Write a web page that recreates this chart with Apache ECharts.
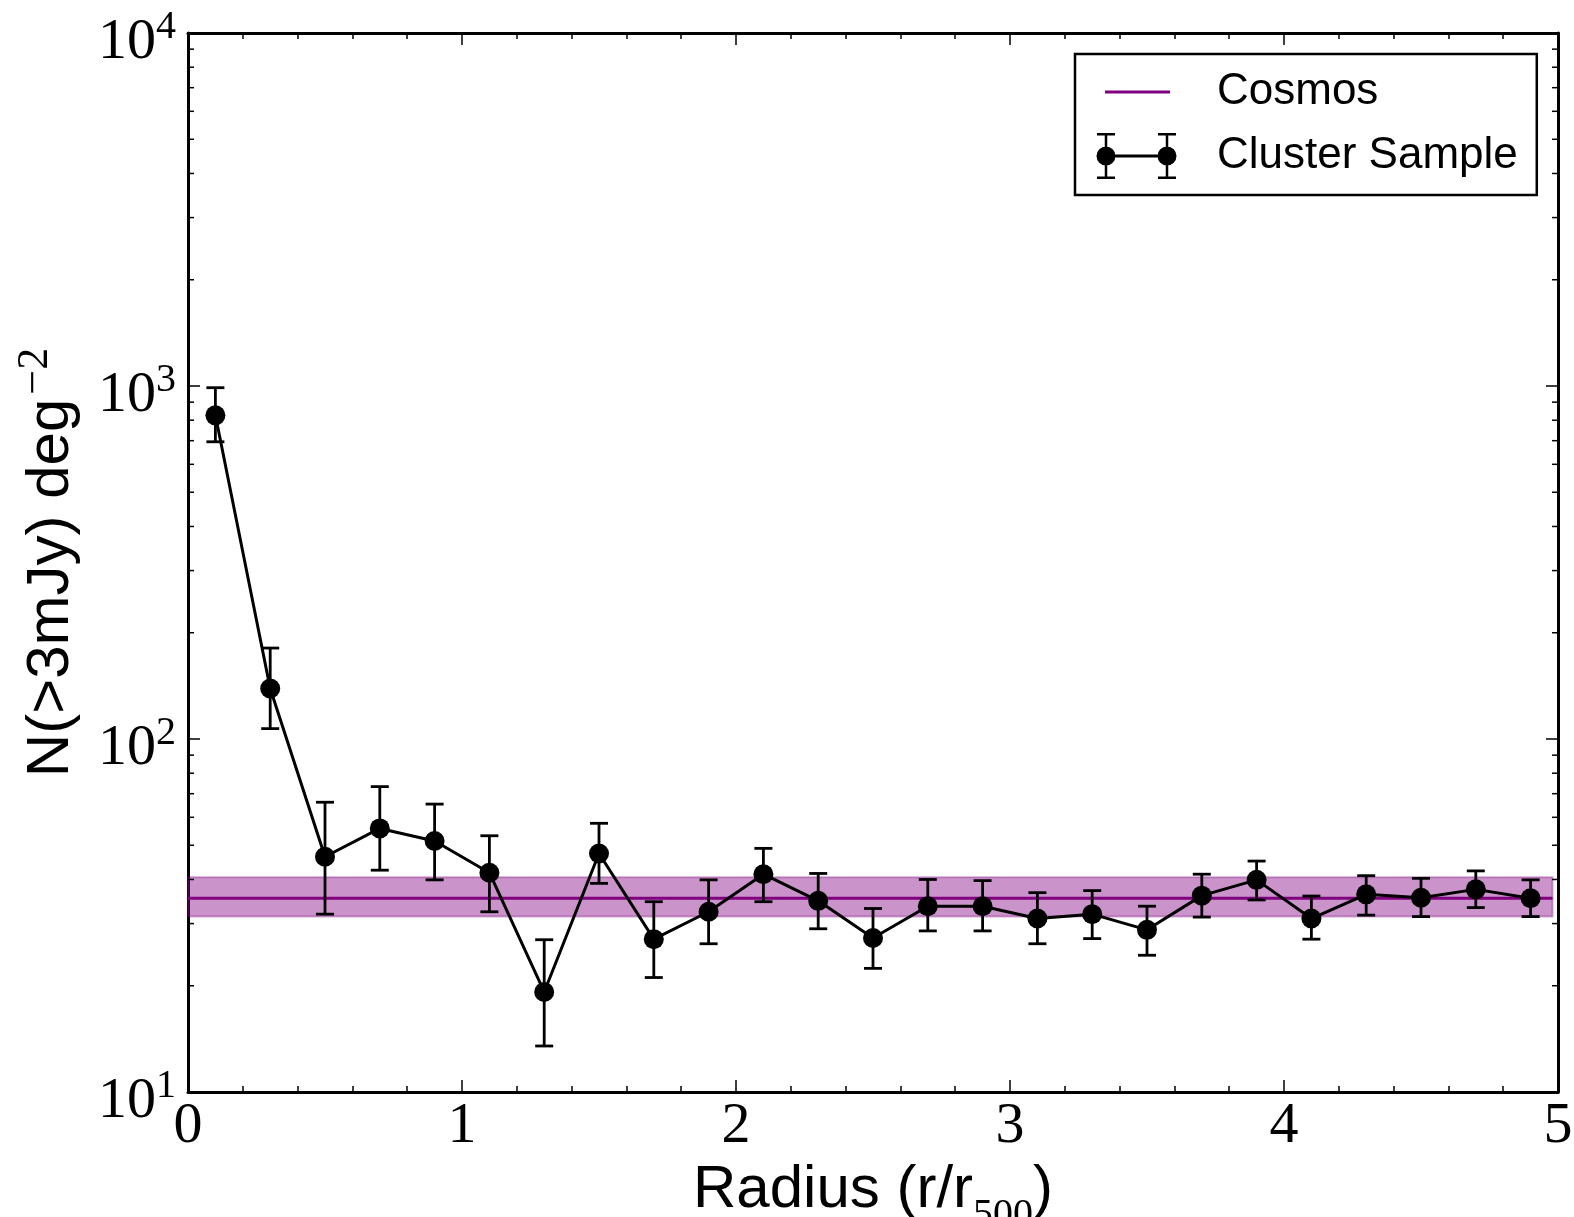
<!DOCTYPE html>
<html><head><meta charset="utf-8">
<script src="https://cdn.jsdelivr.net/npm/echarts@6/dist/echarts.min.js"></script>
<style>html,body{margin:0;padding:0;background:#fff}#c{width:1574px;height:1217px}</style>
</head><body><div id="c"></div>
<script>
// ---- data ----
const radius = [0.1,0.3,0.5,0.7,0.9,1.1,1.3,1.5,1.7,1.9,2.1,2.3,2.5,2.7,2.9,3.1,3.3,3.5,3.7,3.9,4.1,4.3,4.5,4.7,4.9];
const counts = [826,139,46.4,55.8,51.4,41.8,19.2,47.4,27.1,32.4,41.4,34.8,27.3,33.6,33.6,31.0,31.9,28.8,36.0,39.9,31.0,36.3,35.5,37.5,35.4];
const errHigh = [989,181,66.2,73.3,65.4,53.2,27.0,57.7,34.6,39.9,49.0,41.6,33.1,40.0,39.7,36.7,37.2,33.6,41.4,45.1,35.9,41.0,40.3,42.3,39.9];
const errLow = [695,107,31.9,42.5,39.9,32.4,13.5,39.0,21.1,26.3,34.6,29.0,22.4,28.6,28.6,26.3,27.2,24.4,31.3,35.0,27.1,31.7,31.4,33.3,31.4];
const cosmosX = [0, 4.98];
const cosmosLevel = 35.4;
const cosmosLow = 31.4;
const cosmosHigh = 40.6;
const xRange = [0, 5];
const yRange = [10, 10000];
const yMinorTicks = [20,30,40,50,60,70,80,90,200,300,400,500,600,700,800,900,2000,3000,4000,5000,6000,7000,8000,9000];

// ---- chart ----
const chart = echarts.init(document.getElementById('c'), null, {renderer: 'canvas'});
const black = '#000';
const purple = '#800080';
const axisLine = {show: true, onZero: false, lineStyle: {color: black, width: 3}};

const iconCluster = 'path://' +
  'M0.5 23 A9.5 9.5 0 0 1 19.5 23 A9.5 9.5 0 0 1 0.5 23 Z ' +
  'M61.5 23 A9.5 9.5 0 0 1 80.5 23 A9.5 9.5 0 0 1 61.5 23 Z ' +
  'M8.75 0 L11.25 0 L11.25 46 L8.75 46 Z ' +
  'M69.75 0 L72.25 0 L72.25 46 L69.75 46 Z ' +
  'M1 0 L19 0 L19 2.5 L1 2.5 Z M1 43.5 L19 43.5 L19 46 L1 46 Z ' +
  'M62 0 L80 0 L80 2.5 L62 2.5 Z M62 43.5 L80 43.5 L80 46 L62 46 Z ' +
  'M10 21.5 L71 21.5 L71 24.5 L10 24.5 Z ' +
  'M0 0 L0 0 M81 46 L81 46';
const iconCosmos = 'path://M9 21.5 L74 21.5 L74 24.5 L9 24.5 Z M0 0 L0 0 M81 46 L81 46';

function yLabel(v) {
  const e = Math.round(Math.log10(v));
  return '{b|10}{s|' + e + '}';
}

const option = {
  animation: false,
  backgroundColor: '#fff',
  grid: {left: 188, right: 16, top: 33, bottom: 125, containLabel: false, outerBoundsMode: 'none'},
  legend: {
    left: 1075, top: 54, orient: 'vertical', align: 'left',
    backgroundColor: '#fff', borderColor: black, borderWidth: 2.5, borderRadius: 0,
    padding: [15, 19, 16, 21],
    itemWidth: 81, itemHeight: 46, itemGap: 18,
    symbolKeepAspect: true,
    textStyle: {fontFamily: 'Liberation Sans', fontSize: 44, color: black, lineHeight: 46, padding: [0, 0, 0, 35]},
    data: [
      {name: 'Cosmos', icon: iconCosmos, itemStyle: {color: purple, borderWidth: 0, borderColor: 'transparent'}},
      {name: 'Cluster Sample', icon: iconCluster, itemStyle: {color: black, borderWidth: 0, borderColor: 'transparent'}}
    ]
  },
  xAxis: [{
    type: 'value', min: xRange[0], max: xRange[1], interval: 1, position: 'bottom',
    axisLine: axisLine,
    axisTick: {show: true, inside: true, length: 12, lineStyle: {color: black, width: 1.5}},
    minorTick: {show: true, splitNumber: 5, length: 6, lineStyle: {color: black, width: 1.5}},
    splitLine: {show: false},
    axisLabel: {margin: 6, fontFamily: 'Liberation Serif', fontSize: 58, color: black},
    name: '{a|Radius (r/r}{s|500}{a|)}',
    nameLocation: 'middle', nameGap: 51,
    nameTextStyle: {rich: {
      a: {fontFamily: 'Liberation Sans', fontSize: 60, lineHeight: 60, color: black, verticalAlign: 'top'},
      s: {fontFamily: 'Liberation Serif', fontSize: 40, lineHeight: 40, color: black, verticalAlign: 'top', padding: [35, 0, 0, 0]}
    }}
  }, {
    type: 'value', min: xRange[0], max: xRange[1], interval: 1, position: 'top',
    axisLine: axisLine,
    axisTick: {show: true, inside: true, length: 12, lineStyle: {color: black, width: 1.5}},
    minorTick: {show: true, splitNumber: 5, length: 6, lineStyle: {color: black, width: 1.5}},
    splitLine: {show: false}, axisLabel: {show: false}
  }],
  yAxis: [{
    type: 'log', logBase: 10, min: yRange[0], max: yRange[1], position: 'left',
    axisLine: axisLine,
    axisTick: {show: true, inside: true, length: 12, lineStyle: {color: black, width: 1.5}},
    splitLine: {show: false},
    axisLabel: {
      margin: 12, formatter: yLabel,
      rich: {
        b: {fontFamily: 'Liberation Serif', fontSize: 58, lineHeight: 78, color: black, verticalAlign: 'bottom'},
        s: {fontFamily: 'Liberation Serif', fontSize: 40, lineHeight: 40, color: black, verticalAlign: 'top', padding: [13, 0, 0, 0]}
      }
    },
    name: '{t|N(>3mJy) deg}{s|−2}',
    nameLocation: 'middle', nameRotate: 90, nameGap: 107,
    nameTextStyle: {rich: {
      t: {fontFamily: 'Liberation Sans', fontSize: 60, lineHeight: 76, color: black, verticalAlign: 'bottom'},
      s: {fontFamily: 'Liberation Serif', fontSize: 44, lineHeight: 44, color: black, verticalAlign: 'top', padding: [8, 0, 0, 4]}
    }}
  }, {
    type: 'log', logBase: 10, min: yRange[0], max: yRange[1], position: 'right',
    axisLine: axisLine,
    axisTick: {show: true, inside: true, length: 12, lineStyle: {color: black, width: 1.5}},
    splitLine: {show: false}, axisLabel: {show: false}
  }],
  series: [
    {
      name: 'Cosmos', type: 'line', xAxisIndex: 0, yAxisIndex: 0,
      data: cosmosX.map(x => [x, cosmosLevel]),
      showSymbol: false, symbol: 'none',
      lineStyle: {color: purple, width: 3}, itemStyle: {color: purple},
      z: 3,
      markArea: {
        silent: true,
        itemStyle: {color: 'rgba(128,0,128,0.42)', borderColor: 'rgba(128,0,128,0.35)', borderWidth: 2},
        data: [[{xAxis: cosmosX[0], yAxis: cosmosLow}, {xAxis: cosmosX[1], yAxis: cosmosHigh}]]
      }
    },
    {
      name: 'minor ticks', type: 'custom', xAxisIndex: 0, yAxisIndex: 0,
      data: yMinorTicks.map(v => [xRange[0], v]),
      encode: {x: 0, y: 1}, clip: false, silent: true, z: 10,
      renderItem: function (params, api) {
        const v = api.value(1);
        const l = api.coord([xRange[0], v]);
        const r = api.coord([xRange[1], v]);
        const st = {stroke: black, lineWidth: 1.5};
        return {type: 'group', children: [
          {type: 'line', shape: {x1: l[0], y1: l[1], x2: l[0] + 6, y2: l[1]}, style: st},
          {type: 'line', shape: {x1: r[0], y1: r[1], x2: r[0] - 6, y2: r[1]}, style: st}
        ]};
      }
    },
    {
      name: 'errors', type: 'custom', xAxisIndex: 0, yAxisIndex: 0,
      data: radius.map((x, i) => [x, errLow[i], errHigh[i]]),
      encode: {x: 0, y: [1, 2]}, z: 5, silent: true,
      renderItem: function (params, api) {
        const x = api.value(0);
        const lo = api.coord([x, api.value(1)]);
        const hi = api.coord([x, api.value(2)]);
        const hw = 9;
        const st = {stroke: black, lineWidth: 2.8};
        return {type: 'group', children: [
          {type: 'line', shape: {x1: lo[0], y1: lo[1], x2: hi[0], y2: hi[1]}, style: st},
          {type: 'line', shape: {x1: lo[0] - hw, y1: lo[1], x2: lo[0] + hw, y2: lo[1]}, style: st},
          {type: 'line', shape: {x1: hi[0] - hw, y1: hi[1], x2: hi[0] + hw, y2: hi[1]}, style: st}
        ]};
      }
    },
    {
      name: 'Cluster Sample', type: 'line', xAxisIndex: 0, yAxisIndex: 0,
      data: radius.map((x, i) => [x, counts[i]]),
      symbol: 'circle', symbolSize: 20, showSymbol: true,
      lineStyle: {color: black, width: 3},
      itemStyle: {color: black, borderWidth: 0},
      z: 6
    }
  ]
};
chart.setOption(option);
</script>
</body></html>
